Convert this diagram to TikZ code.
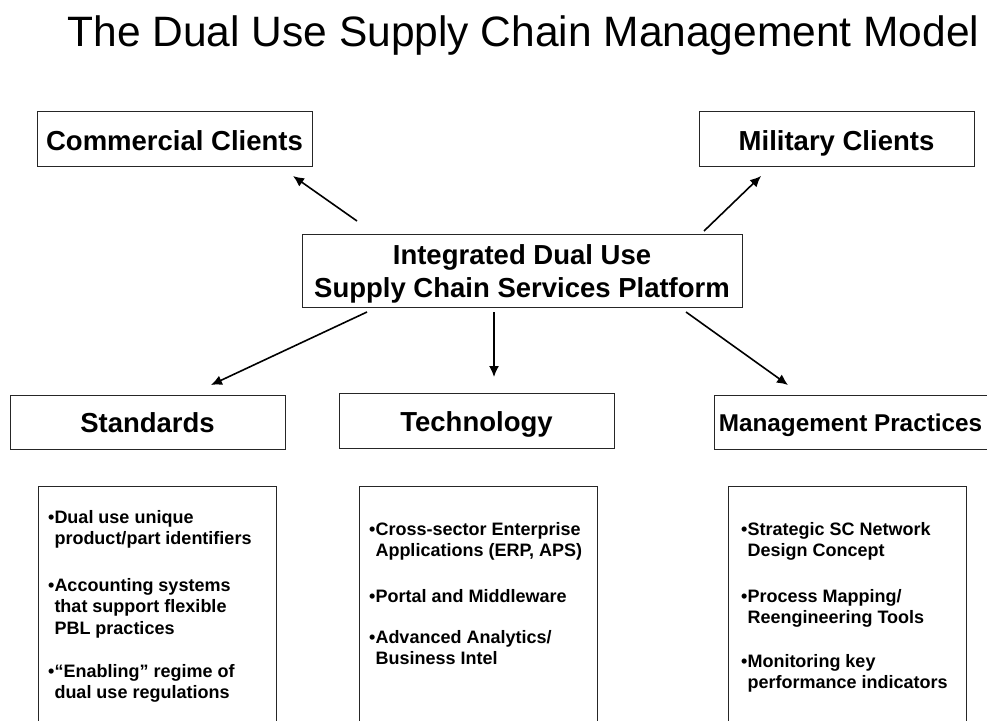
\documentclass[tikz,border=0pt]{standalone}
\usepackage{fontspec}
\setmainfont{Liberation Sans}
\usetikzlibrary{arrows.meta}
\begin{document}
\begin{tikzpicture}[x=1pt,y=-1pt,
  box/.style={draw=black!85, line width=0.9pt, inner sep=0pt, anchor=north west},
  head/.style={font=\bfseries\fontsize{27.5}{33}\selectfont, anchor=base, inner sep=0pt},
  itemtext/.style={font=\bfseries\fontsize{18}{21.5}\selectfont, anchor=base west, inner sep=0pt},
  arr/.style={line width=1.6pt, -{Latex[length=11pt,width=10pt]}}]
\useasboundingbox (0,0) rectangle (987,720);

% title
\node[font=\fontsize{42.5}{50}\selectfont, anchor=base, inner sep=0pt] (title) at (523.5,46) {The Dual Use Supply Chain Management Model};

% client boxes
\node[box, minimum width=275pt, minimum height=55pt] (commercial) at (37,111) {};
\node[head] (commercialtxt) at (174.5,150) {Commercial Clients};
\node[box, minimum width=275pt, minimum height=55pt] (military) at (699,111) {};
\node[head] (militarytxt) at (836.5,150) {Military Clients};

% platform
\node[box, minimum width=440pt, minimum height=73pt] (platform) at (302,234) {};
\node[head] (platformtxta) at (522,264) {Integrated Dual Use};
\node[head] (platformtxtb) at (522,297) {Supply Chain Services Platform};

% category boxes
\node[box, minimum width=275pt, minimum height=54pt] (standards) at (10,395) {};
\node[head] (standardstxt) at (147.5,432) {Standards};
\node[box, minimum width=275pt, minimum height=55pt] (technology) at (339,393) {};
\node[head] (technologytxt) at (476.5,431) {Technology};
\node[box, minimum width=272.5pt, minimum height=54pt] (management) at (714,395) {};
\node[head, font=\bfseries\fontsize{24.3}{29}\selectfont] (managementtxt) at (850.5,431) {Management Practices};

% list boxes (open at the bottom edge of the page)
\node[box, minimum width=238pt, minimum height=260pt] (stdlist) at (38,486) {};
\node[box, minimum width=238pt, minimum height=260pt] (techlist) at (359,486) {};
\node[box, minimum width=238pt, minimum height=260pt] (mgmtlist) at (728,486) {};

% list texts
\node[itemtext] (std1) at (48,523) {\parbox[t]{228pt}{•Dual use unique\\\phantom{•}product/part identifiers}};
\node[itemtext] (std2) at (48,591) {\parbox[t]{228pt}{•Accounting systems\\\phantom{•}that support flexible\\\phantom{•}PBL practices}};
\node[itemtext] (std3) at (48,677) {\parbox[t]{228pt}{•“Enabling” regime of\\\phantom{•}dual use regulations}};

\node[itemtext] (tech1) at (369,535) {\parbox[t]{228pt}{•Cross-sector Enterprise\\\phantom{•}Applications (ERP, APS)}};
\node[itemtext] (tech2) at (369,602) {\parbox[t]{228pt}{•Portal and Middleware}};
\node[itemtext] (tech3) at (369,643) {\parbox[t]{228pt}{•Advanced Analytics/\\\phantom{•}Business Intel}};

\node[itemtext] (mgmt1) at (741,535) {\parbox[t]{228pt}{•Strategic SC Network\\\phantom{•}Design Concept}};
\node[itemtext] (mgmt2) at (741,602) {\parbox[t]{228pt}{•Process Mapping/\\\phantom{•}Reengineering Tools}};
\node[itemtext] (mgmt3) at (741,667) {\parbox[t]{228pt}{•Monitoring key\\\phantom{•}performance indicators}};

% arrow end points
\coordinate (tocomS) at (357,221);
\coordinate (tocomE) at (293,176);
\coordinate (tomilS) at (704,231);
\coordinate (tomilE) at (761,176);
\coordinate (tostdS) at (367,312);
\coordinate (tostdE) at (211,385);
\coordinate (totecS) at (494,312);
\coordinate (totecE) at (494,377);
\coordinate (tomgtS) at (686,312);
\coordinate (tomgtE) at (788,385);

\draw[arr] (tocomS) -- (tocomE);
\draw[arr] (tomilS) -- (tomilE);
\draw[arr] (tostdS) -- (tostdE);
\draw[arr] (totecS) -- (totecE);
\draw[arr] (tomgtS) -- (tomgtE);
\end{tikzpicture}
\end{document}
